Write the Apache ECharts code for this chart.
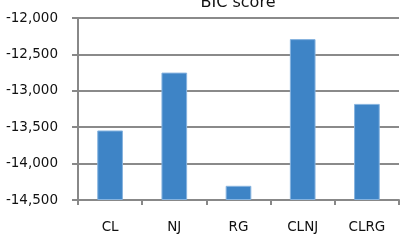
<!DOCTYPE html>
<html>
<head>
<meta charset="utf-8">
<script src="https://cdn.jsdelivr.net/npm/echarts@6/dist/echarts.min.js"></script>
<style>html,body{margin:0;padding:0;background:#fff;}#c{width:406px;height:240px;}</style>
</head>
<body>
<div id="c"></div>
<script>
const categories = ['CL', 'NJ', 'RG', 'CLNJ', 'CLRG'];
const bicScores = [-13545, -12750, -14305, -12290, -13180];
const yMin = -14500, yMax = -12000, yStep = 500;
const titleText = 'BIC score';

const chart = echarts.init(document.getElementById('c'), null, {renderer: 'canvas'});
const font = 'DejaVu Sans';
chart.setOption({
  animation: false,
  backgroundColor: '#ffffff',
  title: {
    text: titleText, left: 238, textAlign: 'center', top: -5, padding: 0,
    textStyle: {fontFamily: font, fontSize: 16, fontWeight: 'normal', color: '#111'}
  },
  grid: {left: 78, right: 7, top: 18, bottom: 40, containLabel: false},
  xAxis: {
    type: 'category', data: categories,
    axisLine: {lineStyle: {color: '#888888', width: 2}},
    axisTick: {show: true, length: 5, alignWithLabel: false, lineStyle: {color: '#888888', width: 2}},
    axisLabel: {fontFamily: font, fontSize: 13.5, color: '#111', margin: 20}
  },
  yAxis: {
    type: 'value', min: yMin, max: yMax, interval: yStep, startValue: yMin,
    axisLine: {show: true, lineStyle: {color: '#888888', width: 2}},
    axisTick: {show: true, length: 6, lineStyle: {color: '#888888', width: 2}},
    splitLine: {show: true, lineStyle: {color: '#8a8a8a', width: 2}},
    axisLabel: {
      fontFamily: font, fontSize: 13.5, color: '#111', margin: 20,
      formatter: v => v.toLocaleString('en-US')
    }
  },
  series: [{
    type: 'bar', data: bicScores, barWidth: '40%',
    itemStyle: {color: '#3e84c6', borderColor: '#86b3df', borderWidth: 1}
  }]
});
</script>
</body>
</html>
